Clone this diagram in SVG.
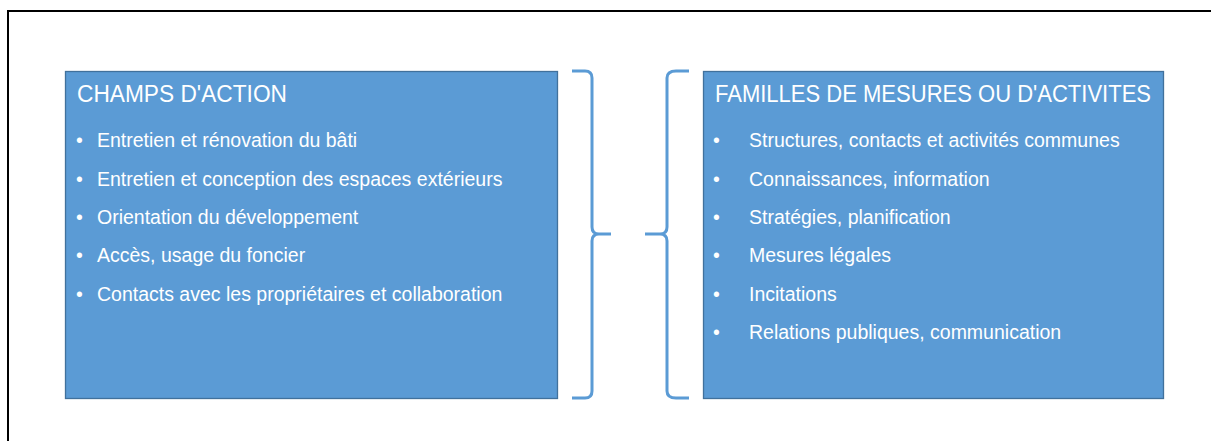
<svg xmlns="http://www.w3.org/2000/svg" width="1211" height="441" viewBox="0 0 1211 441">
  <style>
    .box { fill: #5B9BD5; stroke: #41719C; stroke-width: 1.3; }
    .title { font-family: "Liberation Sans", Arial, sans-serif; font-size: 23px; fill: #FFFFFF; }
    .item { font-family: "Liberation Sans", Arial, sans-serif; font-size: 19.5px; fill: #FFFFFF; }
    .brace { fill: none; stroke: #5B9BD5; stroke-width: 3; stroke-linecap: butt; stroke-linejoin: round; }
  </style>

  <rect x="0" y="0" width="1211" height="441" fill="#FFFFFF"/>
  <!-- page frame -->
  <path d="M8,441 V11 H1211" fill="none" stroke="#000000" stroke-width="2"/>

  <g id="champs-action">
    <rect class="box" x="65.5" y="71.5" width="492" height="327"/>
    <text class="title" x="77" y="102" textLength="210" lengthAdjust="spacingAndGlyphs">CHAMPS D'ACTION</text>
    <g class="item">
      <text x="76" y="147">•</text><text x="97" y="147">Entretien et rénovation du bâti</text>
      <text x="76" y="185.5">•</text><text x="97" y="185.5">Entretien et conception des espaces extérieurs</text>
      <text x="76" y="224">•</text><text x="97" y="224">Orientation du développement</text>
      <text x="76" y="262">•</text><text x="97" y="262">Accès, usage du foncier</text>
      <text x="76" y="300.5">•</text><text x="97" y="300.5">Contacts avec les propriétaires et collaboration</text>
    </g>
  </g>

  <g id="familles-mesures">
    <rect class="box" x="703.5" y="71.5" width="460" height="327"/>
    <text class="title" x="715" y="102" textLength="436" lengthAdjust="spacingAndGlyphs">FAMILLES DE MESURES OU D'ACTIVITES</text>
    <g class="item">
      <text x="713" y="147">•</text><text x="749" y="147">Structures, contacts et activités communes</text>
      <text x="713" y="185.5">•</text><text x="749" y="185.5">Connaissances, information</text>
      <text x="713" y="224">•</text><text x="749" y="224">Stratégies, planification</text>
      <text x="713" y="262">•</text><text x="749" y="262">Mesures légales</text>
      <text x="713" y="300.5">•</text><text x="749" y="300.5">Incitations</text>
      <text x="713" y="339">•</text><text x="749" y="339">Relations publiques, communication</text>
    </g>
  </g>

  <g id="connectors">
    <!-- closing brace after the left box -->
    <path class="brace" d="M572,71 H585 Q592,71 592,78 V227 Q592,234 599,234 H611 M599,234 Q592,234 592,241 V391 Q592,398 585,398 H572"/>
    <!-- opening brace before the right box -->
    <path class="brace" d="M689,71 H676 Q667,71 667,78 V227 Q667,234 660,234 H645 M660,234 Q667,234 667,241 V391 Q667,398 676,398 H689"/>
  </g>
</svg>
